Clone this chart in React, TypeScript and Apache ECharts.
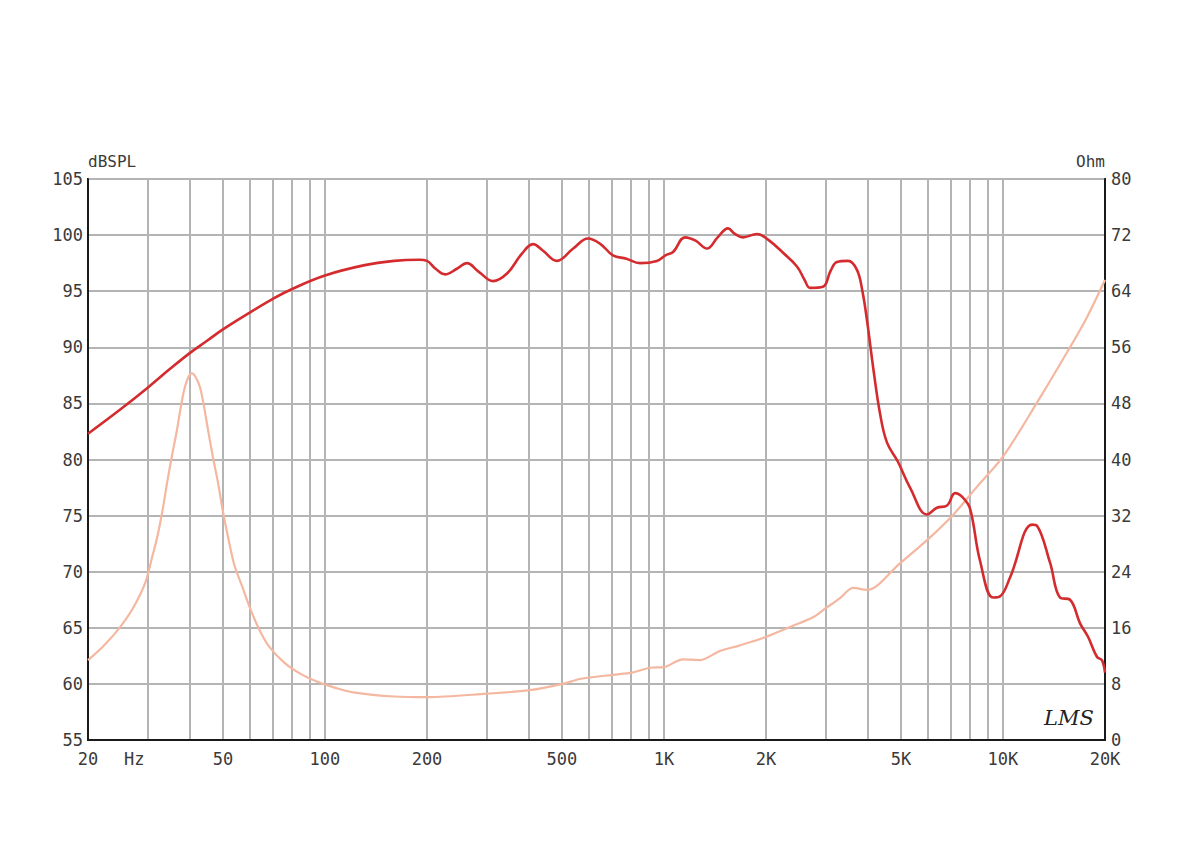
import React, { useEffect, useRef } from "react";
import * as echarts from "echarts";

// Frequency response (dB SPL, left axis)
const splFreq = [20, 25, 30, 35, 40, 45, 50, 60, 70, 80, 100, 130, 160, 190, 200, 212, 226, 245, 262, 285, 313, 345, 380, 411, 440, 483, 540, 597, 650, 707, 775, 850, 953, 1010, 1064, 1154, 1240, 1340, 1440, 1545, 1620, 1710, 1880, 2028, 2250, 2468, 2600, 2698, 2946, 3100, 3238, 3492, 3710, 3850, 3972, 4150, 4339, 4550, 4900, 5320, 5970, 6388, 6840, 7226, 7620, 8000, 8554, 9350, 9800, 10500, 12190, 12600, 13770, 14730, 15770, 16880, 17820, 18950, 19600, 20000];
const splDb = [82.3, 84.5, 86.4, 88.1, 89.5, 90.6, 91.6, 93.1, 94.3, 95.2, 96.4, 97.3, 97.7, 97.8, 97.7, 97.0, 96.5, 97.0, 97.5, 96.7, 95.9, 96.6, 98.3, 99.2, 98.6, 97.7, 98.8, 99.7, 99.2, 98.2, 97.9, 97.5, 97.7, 98.2, 98.5, 99.8, 99.5, 98.8, 99.8, 100.6, 100.1, 99.8, 100.1, 99.6, 98.4, 97.2, 96.0, 95.3, 95.4, 96.8, 97.6, 97.7, 96.9, 95.0, 92.4, 88.0, 84.1, 81.5, 79.8, 77.5, 75.1, 75.7, 75.9, 77.0, 76.6, 75.6, 71.0, 67.7, 67.8, 69.5, 74.2, 74.1, 70.8, 67.7, 67.5, 65.4, 64.2, 62.4, 62.1, 61.0];

// Impedance (Ohm, right axis)
const impFreq = [20, 22, 24.5, 27, 29.5, 31, 32, 33.2, 34.2, 35.4, 36.6, 37.6, 38.6, 39.6, 40.5, 41.5, 42.8, 44, 45.2, 46.7, 48.4, 50, 51.8, 54, 57, 60, 63.5, 68, 76, 85, 95, 108, 121, 160, 200, 300, 402, 503, 565, 707, 805, 910, 1000, 1138, 1278, 1463, 1676, 2000, 2400, 2752, 3000, 3300, 3612, 3972, 4968, 5970, 7126, 8380, 10000, 12600, 15770, 17700, 20000];
const impOhm = [11.4, 13.2, 15.7, 18.6, 22.4, 26.3, 28.9, 32.8, 36.6, 40.6, 44.2, 47.6, 50.3, 51.8, 52.3, 51.8, 50.3, 47.5, 44.2, 40.4, 36.6, 32.6, 28.9, 25.0, 21.9, 18.9, 16.1, 13.5, 11.0, 9.4, 8.3, 7.4, 6.8, 6.2, 6.1, 6.6, 7.1, 8.0, 8.7, 9.3, 9.6, 10.3, 10.4, 11.5, 11.4, 12.7, 13.5, 14.7, 16.3, 17.5, 18.8, 20.2, 21.7, 21.4, 25.2, 28.5, 32.1, 36.1, 40.4, 48.1, 56.0, 60.3, 65.6];

// Axis grid / label values
const xGridValues = [20, 30, 40, 50, 60, 70, 80, 90, 100, 200, 300, 400, 500, 600, 700, 800, 900, 1000, 2000, 3000, 4000, 5000, 6000, 7000, 8000, 9000, 10000, 20000];
const xLabelValues = [20, 50, 100, 200, 500, 1000, 2000, 5000, 10000, 20000];

const FONT = "DejaVu Sans Mono";
const TXT = "#3a3a3a";

export default function App() {
  const ref = useRef<HTMLDivElement>(null);
  useEffect(() => {
    if (!ref.current) return;
    const chart = echarts.init(ref.current, null, { renderer: "svg" });
    const splData = splFreq.map((f, i) => [f, splDb[i]]);
    const impData = impFreq.map((f, i) => [f, impOhm[i]]);
    chart.setOption({
      animation: false,
      backgroundColor: "#ffffff",
      grid: {
        left: 88,
        right: 95,
        top: 179,
        bottom: 122,
        show: true,
        borderColor: "#1a1a1a",
        borderWidth: 2,
        backgroundColor: "#ffffff",
      },
      xAxis: {
        type: "log",
        logBase: 10,
        min: 20,
        max: 20000,
        axisLine: { show: true, lineStyle: { color: "#1a1a1a", width: 2 } },
        axisTick: { show: false, customValues: xGridValues },
        splitLine: { show: true, lineStyle: { color: "#b4b4b4", width: 2 } },
        minorTick: { show: false },
        axisLabel: {
          customValues: xLabelValues,
          margin: 10,
          color: TXT,
          fontFamily: FONT,
          fontSize: 17,
          formatter: (v: number) => (v >= 1000 ? v / 1000 + "K" : String(v)),
        },
      },
      yAxis: [
        {
          type: "value",
          min: 55,
          max: 105,
          interval: 5,
          name: "dBSPL",
          nameLocation: "end",
          nameGap: 10,
          nameTextStyle: { color: TXT, fontFamily: FONT, fontSize: 16, align: "left" },
          axisLine: { show: true, lineStyle: { color: "#1a1a1a", width: 2 } },
          axisTick: { show: false },
          splitLine: { show: true, lineStyle: { color: "#b4b4b4", width: 2 } },
          axisLabel: { margin: 5, color: TXT, fontFamily: FONT, fontSize: 17 },
        },
        {
          type: "value",
          min: 0,
          max: 80,
          interval: 8,
          name: "Ohm",
          nameLocation: "end",
          nameGap: 10,
          nameTextStyle: { color: TXT, fontFamily: FONT, fontSize: 16, align: "right" },
          axisLine: { show: true, lineStyle: { color: "#1a1a1a", width: 2 } },
          axisTick: { show: false },
          splitLine: { show: false },
          axisLabel: { margin: 6, color: TXT, fontFamily: FONT, fontSize: 17 },
        },
      ],
      graphic: [
        {
          type: "text",
          left: 124,
          top: 750,
          style: { text: "Hz", fill: TXT, font: `17px "${FONT}"` },
        },
        {
          type: "text",
          left: 1044,
          top: 707,
          style: { text: "LMS", fill: "#222", font: `italic 21px "DejaVu Serif"` },
        },
      ],
      series: [
        {
          type: "line",
          name: "Impedance",
          yAxisIndex: 1,
          data: impData,
          showSymbol: false,
          smooth: 0.3,
          lineStyle: { color: "#f4b7a0", width: 2.2 },
          z: 2,
        },
        {
          type: "line",
          name: "SPL",
          yAxisIndex: 0,
          data: splData,
          showSymbol: false,
          smooth: 0.4,
          lineStyle: { color: "#d42b2e", width: 2.6 },
          z: 3,
        },
      ],
    });
    return () => chart.dispose();
  }, []);
  return <div ref={ref} style={{ width: 1200, height: 862, position: "absolute", left: 0, top: 0 }} />;
}
